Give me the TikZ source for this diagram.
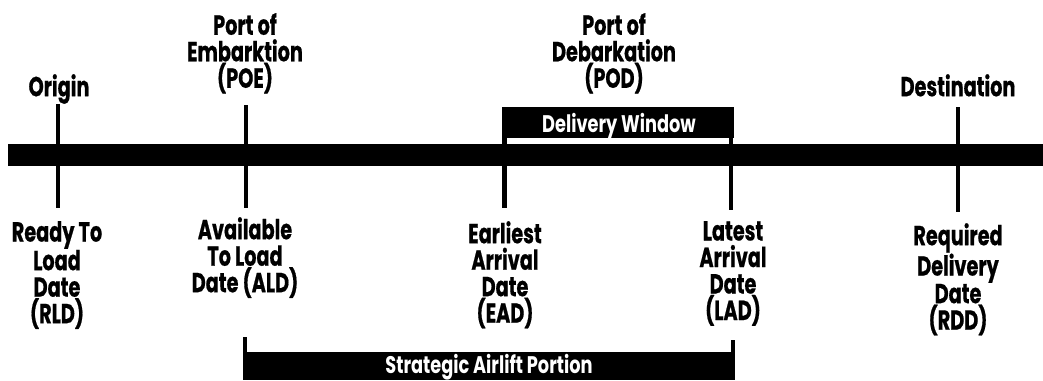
\documentclass[tikz,border=0pt]{standalone}
\usepackage{fontspec}
\newfontfamily\labfont[FakeStretch=0.70, BoldFeatures={FakeBold=0.6}]{Poppins}
\newfontfamily\winfont[FakeStretch=0.74]{Poppins}
\begin{document}
\begin{tikzpicture}[x=1pt,y=-1pt,
  lab/.style={font=\labfont\bfseries\fontsize{27.5}{26.5}\selectfont, align=center, inner sep=0pt, anchor=north},
  wlab/.style={font=\winfont\bfseries\fontsize{24}{24}\selectfont, text=white, inner sep=0pt, anchor=base},
  ticker/.style={line width=4.5pt},
  thinticker/.style={line width=4pt}]
\useasboundingbox (0,0) rectangle (1043,380);
% main time line
\fill (8,144) rectangle (1043,166);
% tick end points
\coordinate (t1a) at (58,104);  \coordinate (t1b) at (58,208);
\coordinate (t2a) at (246,105); \coordinate (t2b) at (246,208);
\coordinate (t3a) at (504.5,107); \coordinate (t3b) at (504.5,208);
\coordinate (t4a) at (731,107); \coordinate (t4b) at (731,210);
\coordinate (t5a) at (958,107); \coordinate (t5b) at (958,212);
\draw[ticker] (t1a) -- (t1b);
\draw[ticker] (t2a) -- (t2b);
\draw[ticker] (t3a) -- (t3b);
\draw[ticker] (t4a) -- (t4b);
\draw[ticker] (t5a) -- (t5b);
% delivery window
\fill (502,107) rectangle (734,138);
\node[wlab] (dw) at (619,132) {Delivery Window};
% strategic airlift portion
\coordinate (s1a) at (245,337); \coordinate (s1b) at (245,353);
\coordinate (s2a) at (733,340); \coordinate (s2b) at (733,353);
\draw[thinticker] (s1a) -- (s1b);
\draw[thinticker] (s2a) -- (s2b);
\fill (243,352) rectangle (735,380);
\node[wlab] (sap) at (489,373) {Strategic Airlift Portion};
% top labels
\node[lab] (origin) at (59,74) {Origin};
\node[lab] (poe) at (245,13) {Port of\\Embarktion\\(POE)};
\node[lab] (pod) at (614,13) {Port of\\Debarkation\\(POD)};
\node[lab] (dest) at (958,74) {Destination};
% bottom labels
\node[lab] (rld) at (57,221) {Ready To\\Load\\Date\\(RLD)};
\node[lab] (ald) at (245,217) {Available\\To Load\\Date (ALD)};
\node[lab] (ead) at (505,221) {Earliest\\Arrival\\Date\\(EAD)};
\node[lab] (lad) at (733,221) {Latest\\Arrival\\Date\\(LAD)};
\node[lab] (rdd) at (958,223) {Required\\Delivery\\Date\\(RDD)};
\end{tikzpicture}
\end{document}
